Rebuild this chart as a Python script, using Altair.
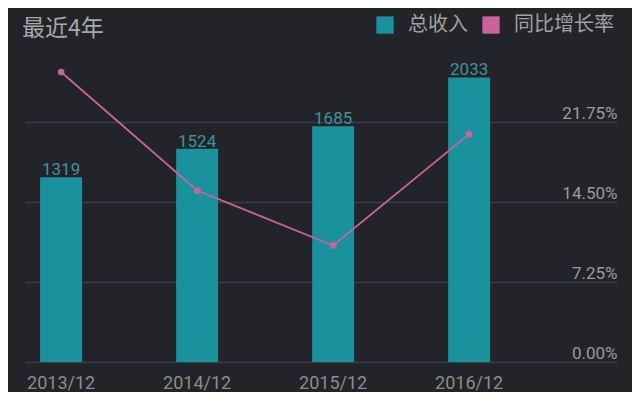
import altair as alt
import pandas as pd

periods = ["2013/12", "2014/12", "2015/12", "2016/12"]
revenue = [1319, 1524, 1685, 2033]
growth = [26.28, 15.54, 10.56, 20.65]
pct_ticks = [0, 7.25, 14.5, 21.75]
series = ["总收入", "同比增长率"]

BG = "#232429"
TEAL = "#1a929e"
PINK = "#c9649a"
FONT = "Noto Sans CJK SC"

df = pd.DataFrame({"period": periods, "revenue": revenue, "growth": growth})

xenc = alt.X("period:N", sort=periods, title=None,
             scale=alt.Scale(paddingInner=0.69, paddingOuter=0.5213, align=0.106),
             axis=alt.Axis(labelAngle=0, domain=False, ticks=False, labelPadding=12,
                           labelFontSize=18, labelColor="#8c8c8c", labelFont="Roboto"))

color_scale = alt.Scale(domain=series, range=[TEAL, PINK])
legend = alt.Legend(orient="none", legendX=350, legendY=-27, direction="horizontal",
                    title=None, symbolType="square", symbolSize=300, symbolStrokeWidth=0,
                    labelFontSize=20, labelColor="#a0a0a0", labelFont=FONT,
                    labelOffset=13, columnPadding=13)

base = alt.Chart(df)

REV_DOMAIN = [0, 2286]

bars = base.transform_calculate(series="'总收入'").mark_bar(size=42).encode(
    x=xenc,
    y=alt.Y("revenue:Q", scale=alt.Scale(domain=REV_DOMAIN), axis=None),
    color=alt.Color("series:N", scale=color_scale, legend=legend),
)

bar_text = base.mark_text(dy=-2, baseline="alphabetic", fontSize=17,
                          color="#3f929a", font="Roboto").encode(
    x=alt.X("period:N", sort=periods),
    y=alt.Y("revenue:Q", scale=alt.Scale(domain=REV_DOMAIN), axis=None),
    text="revenue:Q",
)

bar_layer = alt.layer(bars, bar_text)

pct_y = alt.Y("growth:Q", scale=alt.Scale(domain=[0, 29]), title=None,
              axis=alt.Axis(orient="right", values=pct_ticks,
                            labelExpr="format(datum.value, '.2f') + '%'",
                            domain=False, ticks=False, tickSize=0, labelPadding=0,
                            labelAlign="right", labelBaseline="alphabetic", labelOffset=-4,
                            labelFontSize=17, labelColor="#9a9a9a", labelFont="Roboto",
                            grid=True, gridColor="#3b3c43", gridWidth=1.5))

line = base.mark_line(strokeWidth=1.8, color=PINK).encode(
    x=alt.X("period:N", sort=periods), y=pct_y)

pts = base.transform_calculate(series="'同比增长率'").mark_circle(size=45, opacity=1).encode(
    x=alt.X("period:N", sort=periods),
    y=alt.Y("growth:Q", scale=alt.Scale(domain=[0, 29])),
    color=alt.Color("series:N", scale=color_scale, legend=legend),
)

pct_layer = alt.layer(line, pts)

chart = alt.layer(bar_layer, pct_layer).resolve_scale(y="independent").properties(
    width=592, height=320,
    autosize=alt.AutoSizeParams(type="none"),
    padding={"left": 17, "top": 34, "right": 15, "bottom": 30},
    background=BG,
    title=alt.Title("最近4年", anchor="start", dx=-3, dy=26, offset=0, fontSize=23,
                    color="#a8a8a8", font=FONT, fontWeight="normal"),
).configure_view(stroke=None)

chart.save("out.html", embed_options={"renderer": "svg", "actions": False})
